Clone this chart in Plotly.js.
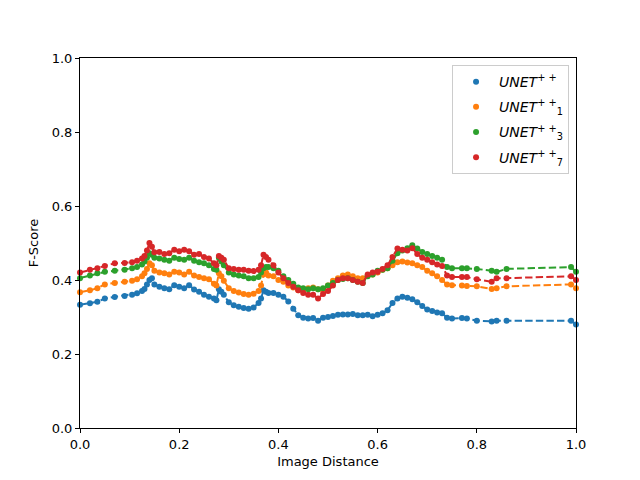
<!DOCTYPE html>
<html>
<head>
<meta charset="utf-8">
<script src="https://cdn.plot.ly/plotly-3.0.1.min.js"></script>
<style>html,body{margin:0;padding:0;background:#fff;}#chart{width:640px;height:480px;}</style>
</head>
<body>
<div id="chart"></div>
<script>
var imageDistance = [0,0.02,0.035,0.05,0.07,0.09,0.105,0.115,0.125,0.13,0.135,0.14,0.145,0.15,0.16,0.17,0.18,0.19,0.2,0.21,0.22,0.23,0.24,0.25,0.26,0.27,0.275,0.28,0.285,0.29,0.3,0.31,0.32,0.33,0.34,0.35,0.36,0.365,0.37,0.375,0.38,0.39,0.4,0.41,0.42,0.43,0.44,0.45,0.46,0.47,0.48,0.49,0.5,0.51,0.52,0.53,0.54,0.55,0.56,0.57,0.58,0.59,0.6,0.61,0.62,0.63,0.64,0.65,0.66,0.67,0.68,0.69,0.7,0.71,0.72,0.73,0.74,0.75,0.77,0.78,0.8,0.83,0.84,0.86,0.99,1.0];

var unet = [0.333,0.337,0.341,0.35,0.354,0.357,0.36,0.364,0.37,0.376,0.388,0.40,0.405,0.388,0.382,0.378,0.375,0.386,0.382,0.378,0.386,0.374,0.368,0.36,0.355,0.35,0.345,0.375,0.368,0.36,0.34,0.332,0.328,0.324,0.322,0.326,0.338,0.35,0.372,0.368,0.365,0.365,0.36,0.355,0.342,0.322,0.305,0.298,0.296,0.297,0.29,0.298,0.3,0.303,0.306,0.307,0.307,0.308,0.305,0.305,0.306,0.302,0.306,0.31,0.318,0.338,0.35,0.355,0.352,0.348,0.34,0.33,0.32,0.316,0.312,0.31,0.298,0.296,0.297,0.296,0.29,0.288,0.29,0.29,0.29,0.28];

var unet1 = [0.367,0.372,0.378,0.388,0.392,0.395,0.398,0.402,0.41,0.418,0.43,0.445,0.44,0.425,0.42,0.418,0.415,0.422,0.42,0.415,0.422,0.412,0.408,0.405,0.402,0.39,0.385,0.418,0.41,0.398,0.378,0.37,0.366,0.362,0.36,0.363,0.37,0.385,0.415,0.42,0.412,0.41,0.4,0.395,0.385,0.38,0.372,0.37,0.378,0.38,0.375,0.372,0.385,0.398,0.405,0.412,0.415,0.41,0.405,0.405,0.412,0.415,0.42,0.428,0.432,0.44,0.448,0.45,0.447,0.445,0.44,0.435,0.425,0.418,0.41,0.4,0.388,0.386,0.385,0.384,0.383,0.376,0.378,0.383,0.388,0.378];

var unet3 = [0.405,0.412,0.418,0.422,0.425,0.428,0.432,0.435,0.442,0.45,0.46,0.472,0.468,0.46,0.458,0.455,0.452,0.46,0.457,0.455,0.46,0.452,0.448,0.445,0.44,0.43,0.428,0.46,0.45,0.44,0.42,0.415,0.412,0.41,0.405,0.405,0.408,0.42,0.432,0.435,0.435,0.432,0.425,0.41,0.4,0.39,0.38,0.378,0.375,0.378,0.375,0.378,0.385,0.392,0.40,0.403,0.405,0.40,0.395,0.392,0.41,0.415,0.425,0.428,0.432,0.452,0.472,0.48,0.486,0.494,0.485,0.476,0.47,0.465,0.46,0.455,0.435,0.432,0.432,0.432,0.43,0.425,0.422,0.43,0.435,0.422];

var unet7 = [0.42,0.428,0.432,0.438,0.445,0.446,0.448,0.452,0.458,0.465,0.48,0.50,0.49,0.475,0.476,0.47,0.472,0.482,0.478,0.482,0.478,0.468,0.47,0.462,0.458,0.445,0.44,0.465,0.46,0.455,0.432,0.43,0.428,0.428,0.425,0.424,0.428,0.44,0.468,0.462,0.455,0.44,0.42,0.405,0.392,0.382,0.372,0.365,0.36,0.36,0.35,0.362,0.37,0.385,0.40,0.405,0.405,0.40,0.395,0.392,0.415,0.42,0.422,0.43,0.44,0.462,0.485,0.482,0.48,0.486,0.47,0.46,0.455,0.448,0.442,0.438,0.412,0.408,0.408,0.408,0.402,0.395,0.405,0.405,0.41,0.40];

var seriesNames = ['<i>UNET</i><sup>+ +</sup>', '<i>UNET</i><sup>+ +</sup><sub>1</sub>', '<i>UNET</i><sup>+ +</sup><sub>3</sub>', '<i>UNET</i><sup>+ +</sup><sub>7</sub>'];
var seriesValues = [unet, unet1, unet3, unet7];
var colors = ['#1f77b4', '#ff7f0e', '#2ca02c', '#d62728'];

var traces = [];
for (var i = 0; i < seriesValues.length; i++) {
  traces.push({
    x: imageDistance, y: seriesValues[i], mode: 'lines', type: 'scatter',
    line: {color: colors[i], width: 2, dash: '7.4px,3.2px'},
    showlegend: false, hoverinfo: 'skip', legendgroup: 'g' + i
  });
  traces.push({
    x: imageDistance, y: seriesValues[i], mode: 'markers', type: 'scatter',
    name: seriesNames[i], legendgroup: 'g' + i,
    marker: {color: colors[i], size: 6},
    cliponaxis: false
  });
}

var axisCommon = {
  showgrid: false, zeroline: false, showline: true, linecolor: '#000', linewidth: 1,
  mirror: true, ticks: 'outside', ticklen: 4, tickwidth: 1, tickcolor: '#000',
  tickfont: {family: 'DejaVu Sans', size: 13, color: '#000'}
};

var layout = {
  width: 640, height: 480,
  margin: {l: 80, r: 64, t: 58, b: 52},
  paper_bgcolor: '#fff', plot_bgcolor: '#fff',
  xaxis: Object.assign({}, axisCommon, {
    range: [0, 1], tickvals: [0, 0.2, 0.4, 0.6, 0.8, 1.0],
    ticktext: ['0.0', '0.2', '0.4', '0.6', '0.8', '1.0'],
    title: {text: 'Image Distance', font: {family: 'DejaVu Sans', size: 13, color: '#000'}, standoff: 6}
  }),
  yaxis: Object.assign({}, axisCommon, {
    range: [0, 1], tickvals: [0, 0.2, 0.4, 0.6, 0.8, 1.0],
    ticktext: ['0.0', '0.2', '0.4', '0.6', '0.8', '1.0'],
    title: {text: 'F-Score', font: {family: 'DejaVu Sans', size: 13, color: '#000'}, standoff: 10}
  }),
  legend: {
    x: 0.986, xanchor: 'right', y: 0.981, yanchor: 'top',
    bgcolor: 'rgba(255,255,255,0.8)', bordercolor: '#cccccc', borderwidth: 1,
    font: {family: 'DejaVu Sans', size: 14, color: '#000'},
    tracegroupgap: 4, itemwidth: 36
  },
  showlegend: true
};

Plotly.newPlot('chart', traces, layout, {displayModeBar: false, staticPlot: true});
</script>
</body>
</html>
